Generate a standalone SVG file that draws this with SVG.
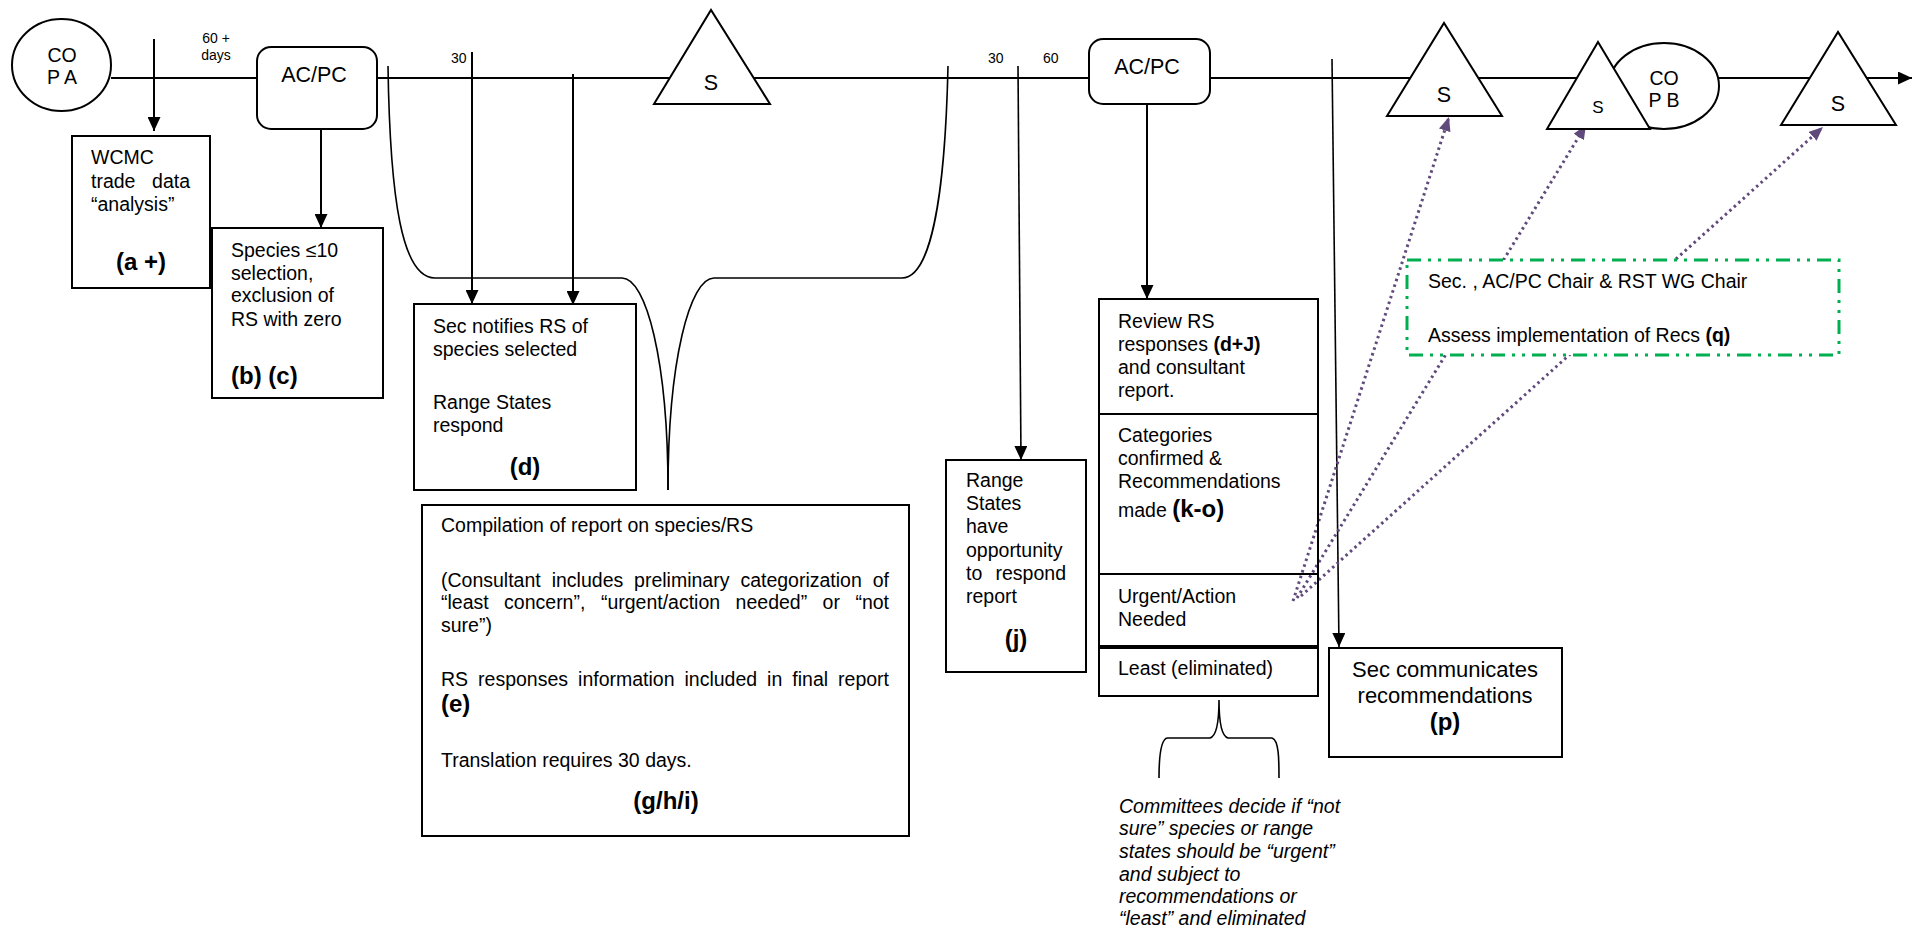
<svg xmlns="http://www.w3.org/2000/svg" width="1913" height="932" viewBox="0 0 1913 932">
<style>
text { font-family: "Liberation Sans", Arial, sans-serif; fill: #000; font-size: 19.5px; }
.b { font-weight: bold; font-size: 24px; }
.bs { font-weight: bold; }
.sm { font-size: 14px; }
.lg { font-size: 21.5px; }
.md { font-size: 22px; }
.it { font-style: italic; }
.mid { text-anchor: middle; }
.end { text-anchor: end; }
.box { fill: #fff; stroke: #000; stroke-width: 2; }
.nofill { fill: none; stroke: #000; stroke-width: 2; }
.ln { fill: none; stroke: #000; stroke-width: 2; }
.thin { fill: none; stroke: #000; stroke-width: 1.6; }
.dot { fill: none; stroke: #604a7b; stroke-width: 3; stroke-dasharray: 2.5 3.5; }
.green { fill: #fff; stroke: #00b050; stroke-width: 3; stroke-dasharray: 14 7 3 7 3 7; }
</style>
<defs>
<marker id="ah" markerUnits="userSpaceOnUse" markerWidth="14" markerHeight="13" refX="14" refY="6.5" orient="auto"><path d="M0,0 L14,6.5 L0,13 z" fill="#000"/></marker>
<marker id="ap" markerUnits="userSpaceOnUse" markerWidth="14" markerHeight="12" refX="14" refY="6" orient="auto"><path d="M0,0 L14,6 L0,12 z" fill="#604a7b"/></marker>
</defs>
<rect x="0" y="0" width="1913" height="932" fill="#fff"/>

<g id="connectors">
  <line class="ln" x1="111" y1="78" x2="1912" y2="78" marker-end="url(#ah)"/>
  <line class="ln" x1="154" y1="39" x2="154" y2="131" marker-end="url(#ah)"/>
  <line class="ln" x1="321" y1="129" x2="321" y2="228" marker-end="url(#ah)"/>
  <line class="ln" x1="472" y1="52" x2="472" y2="304" marker-end="url(#ah)"/>
  <line class="ln" x1="573" y1="74" x2="573" y2="305" marker-end="url(#ah)"/>
  <path class="thin" d="M388,66 C390,200 402,278 435,278 L622,278 C646,278 668,360 668,490"/>
  <path class="thin" d="M668,490 C668,360 690,278 714,278 L902,278 C930,278 945,200 948,66"/>
  <line class="thin" x1="1018" y1="66" x2="1021" y2="460" marker-end="url(#ah)"/>
  <line class="ln" x1="1147" y1="104" x2="1147" y2="299" marker-end="url(#ah)"/>
  <line class="thin" x1="1332" y1="59" x2="1339" y2="647" marker-end="url(#ah)"/>
  <path class="thin" d="M1167,738 C1160,740 1159,760 1159,778 M1167,738 L1210,738 C1217,736 1219,720 1219,700 C1219,720 1221,736 1228,738 L1272,738 C1279,740 1279,760 1279,778"/>
  <line class="dot" x1="1293" y1="601" x2="1449" y2="117" marker-end="url(#ap)"/>
  <line class="dot" x1="1297" y1="598" x2="1586" y2="125" marker-end="url(#ap)"/>
  <line class="dot" x1="1301" y1="596" x2="1823" y2="127" marker-end="url(#ap)"/>
</g>

<g id="labels">
  <text class="sm mid" x="216" y="43">60 +</text>
  <text class="sm mid" x="216" y="60">days</text>
  <text class="sm" x="451" y="63">30</text>
  <text class="sm" x="988" y="63">30</text>
  <text class="sm" x="1043" y="63">60</text>
</g>

<g id="copA">
  <ellipse class="box" cx="61.5" cy="65" rx="49.5" ry="46"/>
  <text class="mid" x="62" y="62">CO</text>
  <text class="mid" x="62" y="84">P A</text>
</g>

<g id="wcmc">
  <rect class="box" x="72" y="136" width="138" height="152"/>
  <text x="91" y="164">WCMC</text>
  <text x="91" y="188">trade</text>
  <text class="end" x="190" y="188">data</text>
  <text x="91" y="211">“analysis”</text>
  <text class="b mid" x="141" y="270">(a +)</text>
</g>

<g id="acpc1">
  <rect class="box" x="257" y="47" width="120" height="82" rx="14"/>
  <text class="lg mid" x="314" y="82">AC/PC</text>
</g>

<g id="species">
  <rect class="box" x="212" y="228" width="171" height="170"/>
  <text x="231" y="257">Species ≤10</text>
  <text x="231" y="280">selection,</text>
  <text x="231" y="302">exclusion of</text>
  <text x="231" y="326">RS with zero</text>
  <text class="b" x="231" y="384">(b) (c)</text>
</g>

<g id="secNotifies">
  <rect class="box" x="414" y="304" width="222" height="186"/>
  <text x="433" y="333">Sec notifies RS of</text>
  <text x="433" y="356">species selected</text>
  <text x="433" y="409">Range States</text>
  <text x="433" y="432">respond</text>
  <text class="b mid" x="525" y="475">(d)</text>
</g>

<g id="s1">
  <path class="box" d="M654,104 L711,10 L770,104 Z"/>
  <text class="lg mid" x="711" y="90">S</text>
</g>

<g id="compilation">
  <rect class="box" x="422" y="505" width="487" height="331"/>
  <text x="441" y="532">Compilation of report on species/RS</text>
  <text y="587"><tspan x="441">(Consultant</tspan><tspan x="551.7">includes</tspan><tspan x="634.1">preliminary</tspan><tspan x="740.4">categorization</tspan><tspan x="872.7">of</tspan></text>
  <text y="609"><tspan x="441">“least</tspan><tspan x="504.1">concern”,</tspan><tspan x="600.9">“urgent/action</tspan><tspan x="735.6">needed”</tspan><tspan x="822.6">or</tspan><tspan x="855.4">“not</tspan></text>
  <text x="441" y="632">sure”)</text>
  <text y="686"><tspan x="441">RS</tspan><tspan x="478.1">responses</tspan><tspan x="578.1">information</tspan><tspan x="684.5">included</tspan><tspan x="767.1">in</tspan><tspan x="792.3">final</tspan><tspan x="838.1">report</tspan></text>
  <text class="b" x="441" y="712">(e)</text>
  <text x="441" y="767">Translation requires 30 days.</text>
  <text class="b mid" x="666" y="809">(g/h/i)</text>
</g>

<g id="rangeStates">
  <rect class="box" x="946" y="460" width="140" height="212"/>
  <text x="966" y="487">Range</text>
  <text x="966" y="510">States</text>
  <text x="966" y="533">have</text>
  <text x="966" y="557">opportunity</text>
  <text x="966" y="580">to</text>
  <text class="end" x="1066" y="580">respond</text>
  <text x="966" y="603">report</text>
  <text class="b mid" x="1016" y="647">(j)</text>
</g>

<g id="acpc2">
  <rect class="box" x="1089" y="39" width="121" height="65" rx="14"/>
  <text class="lg mid" x="1147" y="74">AC/PC</text>
</g>

<g id="review">
  <rect class="nofill" x="1099" y="299" width="219" height="115"/>
  <text x="1118" y="328">Review RS</text>
  <text x="1118" y="351">responses <tspan class="bs">(d+J)</tspan></text>
  <text x="1118" y="374">and consultant</text>
  <text x="1118" y="397">report.</text>
</g>

<g id="categories">
  <rect class="nofill" x="1099" y="414" width="219" height="160"/>
  <text x="1118" y="442">Categories</text>
  <text x="1118" y="465">confirmed &amp;</text>
  <text x="1118" y="488">Recommendations</text>
  <text x="1118" y="517">made <tspan class="b">(k-o)</tspan></text>
</g>

<g id="urgent">
  <rect class="nofill" x="1099" y="574" width="219" height="72"/>
  <text x="1118" y="603">Urgent/Action</text>
  <text x="1118" y="626">Needed</text>
</g>

<g id="least">
  <rect class="nofill" x="1099" y="648" width="219" height="48"/>
  <text x="1118" y="675">Least (eliminated)</text>
</g>

<g id="committeesNote">
  <text class="it" x="1119" y="813">Committees decide if “not</text>
  <text class="it" x="1119" y="835">sure” species or range</text>
  <text class="it" x="1119" y="858">states should be “urgent”</text>
  <text class="it" x="1119" y="881">and subject to</text>
  <text class="it" x="1119" y="903">recommendations or</text>
  <text class="it" x="1119" y="925">“least” and eliminated</text>
</g>

<g id="secCommunicates">
  <rect class="box" x="1329" y="648" width="233" height="109"/>
  <text class="md mid" x="1445" y="677">Sec communicates</text>
  <text class="md mid" x="1445" y="703">recommendations</text>
  <text class="b mid" x="1445" y="730">(p)</text>
</g>

<g id="s2">
  <path class="box" d="M1387,116 L1444,23 L1502,116 Z"/>
  <text class="lg mid" x="1444" y="102">S</text>
</g>

<g id="copB">
  <ellipse class="box" cx="1664" cy="86" rx="55" ry="43"/>
  <text class="mid" x="1664" y="85">CO</text>
  <text class="mid" x="1664" y="107">P B</text>
</g>

<g id="s3">
  <path class="box" d="M1547,129 L1598,42 L1650,129 Z"/>
  <text class="mid" x="1598" y="113" style="font-size:17px">S</text>
</g>

<g id="s4">
  <path class="box" d="M1781,125 L1838,32 L1896,125 Z"/>
  <text class="lg mid" x="1838" y="111">S</text>
</g>

<g id="assess">
  <rect class="green" x="1407" y="260" width="432" height="95"/>
  <text x="1428" y="288">Sec. , AC/PC Chair &amp; RST WG Chair</text>
  <text x="1428" y="342">Assess implementation of Recs <tspan class="bs">(q)</tspan></text>
</g>
</svg>
